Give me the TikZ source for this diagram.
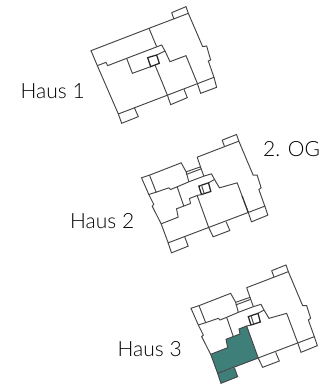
\documentclass[tikz,border=0pt]{standalone}
\usepackage{fontspec}
\setmainfont{Lato Light}
\definecolor{wall}{HTML}{454545}
\definecolor{teal}{HTML}{3F7F7A}
\tikzset{plan/.style={draw=wall,line width=0.95pt,line join=miter},
  core/.style={draw=black!85,line width=1.25pt,line join=miter},
  label/.style={inner sep=0pt,anchor=base west,font=\fontsize{21}{21}\selectfont,text=black}}
\newcommand\HausPlan{%
  \draw[plan] (170,98)--(295,50)--(338,152)--(350,152)--(362,190)--(355,195)--(373,245)--(83,355)--(62,298)--(35,245)--(40,240)--(25,210)--(3,160)--(27,152)--(122,115)--(137,142)--(180,127)--(170,98);
  \draw[plan] (245,47)--(288,30)--(295,50);
  \draw[plan] (245,47)--(252,66);
  \draw[plan] (373,245)--(382,272)--(333,292)--(323,263);
  \draw[plan] (205,310)--(218,337)--(268,318)--(257,292);
  \draw[plan] (83,355)--(93,385)--(143,365)--(133,338);
  \draw[plan] (27,152)--(47,203)--(25,210);
  \draw[plan] (47,203)--(85,190)--(90,195)--(110,187)--(145,172)--(190,155)--(213,148)--(222,165)--(237,190)--(290,175)--(323,263);
  \draw[plan] (137,142)--(145,172);
  \draw[plan] (137,150)--(182,133);
  \draw[plan] (180,127)--(190,155);
  \draw[plan] (110,187)--(130,245);
  \draw[plan] (222,165)--(204,175);
  \draw[core] (175,185)--(204,175)--(211,201)--(183,210)--cycle;
  \draw[plan] (183,182)--(191,207);
  \draw[plan] (62,298)--(113,278)--(108,253)--(150,237)--(147,222)--(170,213)--(205,310);
  \draw[plan] (170,213)--(183,210);
}
\begin{document}
\begin{tikzpicture}[x=1pt,y=-1pt]
\useasboundingbox (0,0) rectangle (322,387);
% Haus 1
\begin{scope}[shift={(80,0)},x=0.3333pt,y=-0.3333pt]
  \draw[plan] (33,152)--(207,85)--(325,40)--(368,140)--(380,138)--(392,180)--(385,183)--(402,232)--(115,342)--(52,197)--cycle;
  \draw[plan] (275,38)--(318,20)--(325,40);
  \draw[plan] (275,38)--(282,58);
  \draw[plan] (402,232)--(410,262)--(362,280)--(352,250);
  \draw[plan] (262,285)--(272,314)--(322,293)--(312,268);
  \draw[plan] (115,342)--(125,370)--(175,350)--(163,323);
  \draw[plan] (52,197)--(78,187)--(83,197)--(140,175)--(245,135)--(255,153)--(270,185)--(318,167)--(352,250);
  \draw[plan] (207,85)--(230,140);
  \draw[plan] (140,175)--(157,220)--(212,200);
  \draw[core] (203,173)--(230,165)--(238,190)--(212,200)--cycle;
  \draw[plan] (225,195)--(262,285);
  \draw[plan] (255,153)--(230,165);
\end{scope}
% Haus 2
\begin{scope}[shift={(140.5,124.5)},x=0.3333pt,y=-0.3333pt]
  \HausPlan
  \draw[core,line width=1.2pt,dash pattern=on 1pt off 0.6pt] (305,215)--(323,263);
\end{scope}
% Haus 3
\begin{scope}[shift={(190,255)},x=0.3333pt,y=-0.3333pt]
  \fill[teal] (62,298)--(113,278)--(108,253)--(150,237)--(147,222)--(170,213)--(205,310)--(83,355)--cycle;
  \fill[teal] (83,355)--(93,385)--(143,365)--(133,338)--cycle;
  \HausPlan
\end{scope}
\node[label] (h1) at (20.5,99) {Haus 1};
\node[label] (og) at (263,157) {2. OG};
\node[label] (h2) at (70,228.5) {Haus 2};
\node[label] (h3) at (117.5,356) {Haus 3};
\end{tikzpicture}
\end{document}
